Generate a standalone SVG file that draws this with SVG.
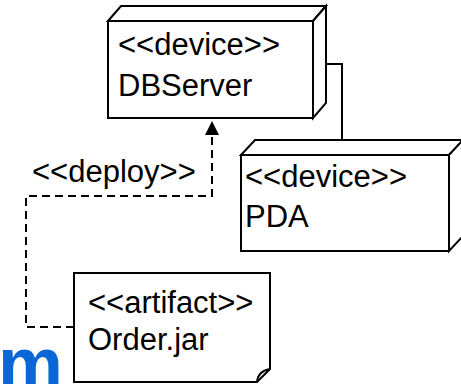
<svg xmlns="http://www.w3.org/2000/svg" width="461" height="384" viewBox="0 0 461 384">
  <style>
    .shape { fill: #ffffff; stroke: #000000; stroke-width: 2; stroke-linejoin: miter; }
    .label { font-family: "Liberation Sans", Arial, sans-serif; font-size: 31px; fill: #000000; }
    .link { fill: none; stroke: #000000; stroke-width: 2; }
    .dashed { stroke-dasharray: 8 5; }
    .mark { font-family: "Liberation Sans", Arial, sans-serif; font-weight: bold; font-size: 73px; fill: #0b66d6; }
  </style>
  <defs>
    <marker id="arrow" viewBox="0 0 14 14" refX="14" refY="7" markerWidth="14" markerHeight="14" markerUnits="userSpaceOnUse" orient="auto">
      <path d="M0,0 L14,7 L0,14 Z" fill="#000000"/>
    </marker>
  </defs>

  <!-- partial logo letter at the lower left -->
  <text class="mark" x="-2" y="388">m</text>

  <g id="connectors">
    <!-- DBServer to PDA communication path -->
    <path class="link" d="M326,64 H342 V147"/>
    <!-- deploy dependency from Order.jar to DBServer -->
    <path class="link dashed" d="M74,327 H26 V196 H212 V121" marker-end="url(#arrow)"/>
    <text class="label" x="32" y="182">&lt;&lt;deploy&gt;&gt;</text>
  </g>

  <g id="dbserver">
    <polygon class="shape" points="108,21 121,6 326,6 313,21"/>
    <polygon class="shape" points="313,21 326,6 326,103 313,118"/>
    <rect class="shape" x="108" y="21" width="205" height="97"/>
    <text class="label" x="118" y="55">&lt;&lt;device&gt;&gt;</text>
    <text class="label" x="118" y="96">DBServer</text>
  </g>

  <g id="pda">
    <polygon class="shape" points="241,155 255,140 463,140 449,155"/>
    <polygon class="shape" points="449,155 463,140 463,236 449,251"/>
    <rect class="shape" x="241" y="155" width="208" height="96"/>
    <text class="label" x="245" y="187">&lt;&lt;device&gt;&gt;</text>
    <text class="label" x="245" y="227">PDA</text>
  </g>

  <g id="orderjar">
    <path class="shape" d="M74,273 H270 V369 L257,382 H74 Z"/>
    <path class="link" d="M257,382 Q258,371 270,369"/>
    <text class="label" x="88" y="313">&lt;&lt;artifact&gt;&gt;</text>
    <text class="label" x="88" y="350">Order.jar</text>
  </g>
</svg>
